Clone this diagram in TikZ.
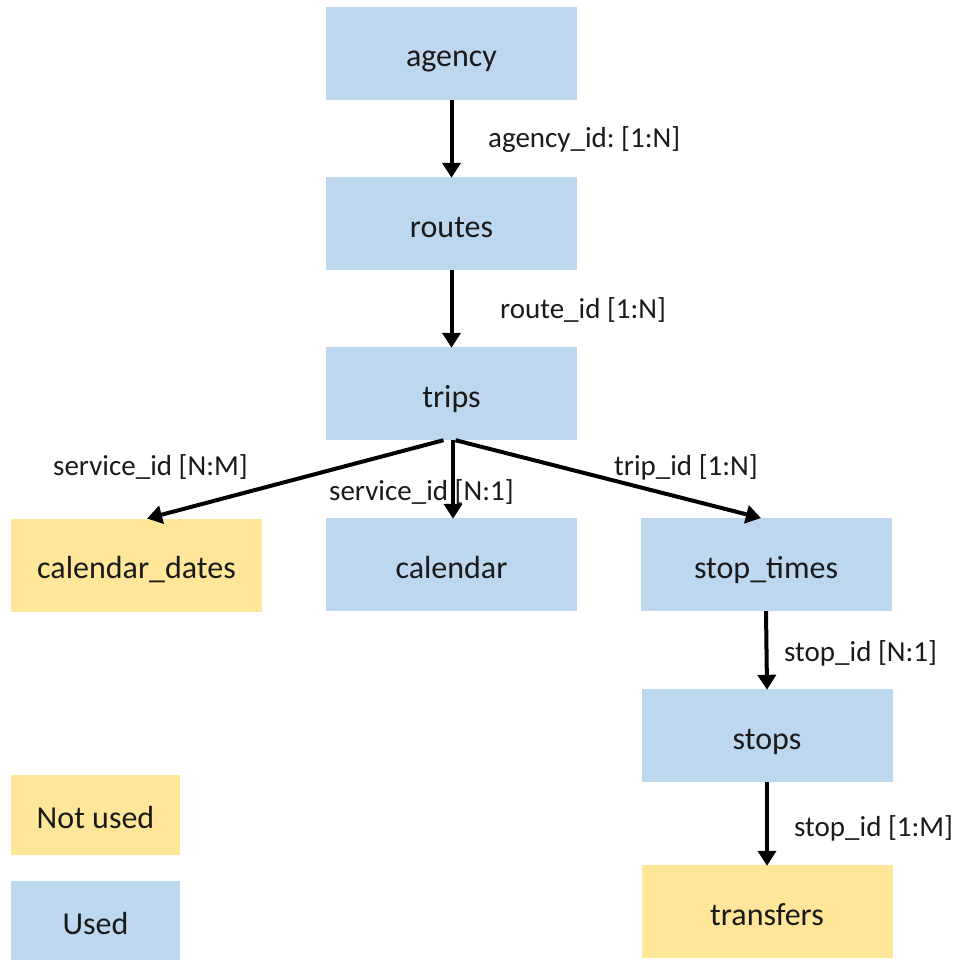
\documentclass[tikz,border=0pt]{standalone}
\usepackage{fontspec}
\setmainfont{Carlito}
\usetikzlibrary{arrows.meta,calc}
\definecolor{usedblue}{HTML}{BDD7EE}
\definecolor{unusedyellow}{HTML}{FFE699}
\definecolor{inkgray}{HTML}{1A1A1A}
\tikzset{
  table/.style={minimum width=251pt, minimum height=93pt, inner sep=0pt,
    text height=27pt, text depth=0pt,
    text=inkgray, font=\fontsize{32}{38}\selectfont},
  used/.style={table, fill=usedblue},
  unused/.style={table, fill=unusedyellow},
  legendbox/.style={minimum width=169pt, minimum height=80pt},
  rel/.style={line width=4pt, draw=black,
    -{Triangle[width=18pt,length=15pt]}, shorten >=-1pt},
  rellabel/.style={anchor=west, inner sep=0pt, text=inkgray,
    font=\fontsize{29}{34}\selectfont\frenchspacing}
}
\begin{document}
\begin{tikzpicture}[x=1pt,y=-1pt]
  \useasboundingbox (0,0) rectangle (956,960);

  % tables of the feed
  \node[used]   (agency)   at (451.5,53.5)  {agency};
  \node[used]   (routes)   at (451.5,223.5) {routes};
  \node[used]   (trips)    at (451.5,393.5) {trips};
  \node[unused] (caldates) at (136.5,565)   {calendar\_dates};
  \node[used]   (calendar) at (451.5,564.5) {calendar};
  \node[used]   (stoptimes) at (766,564.5)  {stop\_times};
  \node[used]   (stops)    at (767,735.5)   {stops};
  \node[unused] (transfers) at (767,911.5)  {transfers};

  % legend
  \node[unused, legendbox] (notusedkey) at (95.5,815)   {Not used};
  \node[used, legendbox]   (usedkey)    at (95.5,921)   {Used};

  % relations
  \draw[rel] (agency.south) -- (routes.north);
  \draw[rel] (routes.south) -- (trips.north);
  \draw[rel] ($(trips.south)+(-8,0)$) -- ($(caldates.north)+(11.5,0)$);
  \draw[rel] ($(trips.south)+(1.5,0)$) -- ($(calendar.north)+(1.5,0)$);
  \draw[rel] ($(trips.south)+(4,0)$) -- ($(stoptimes.north)+(-6,0)$);
  \draw[rel] (stoptimes.south) -- (stops.north);
  \draw[rel] (stops.south) -- (transfers.north);

  % relation labels
  \node[rellabel] (l1) at (488,140) {agency\_id: [1:N]};
  \node[rellabel] (l2) at (500,310) {route\_id [1:N]};
  \node[rellabel] (l3) at (53,467)  {service\_id [N:M]};
  \node[rellabel] (l4) at (329,492) {service\_id [N:1]};
  \node[rellabel] (l5) at (614,467) {trip\_id [1:N]};
  \node[rellabel] (l6) at (784,653) {stop\_id [N:1]};
  \node[rellabel] (l7) at (794,828) {stop\_id [1:M]};
\end{tikzpicture}
\end{document}
